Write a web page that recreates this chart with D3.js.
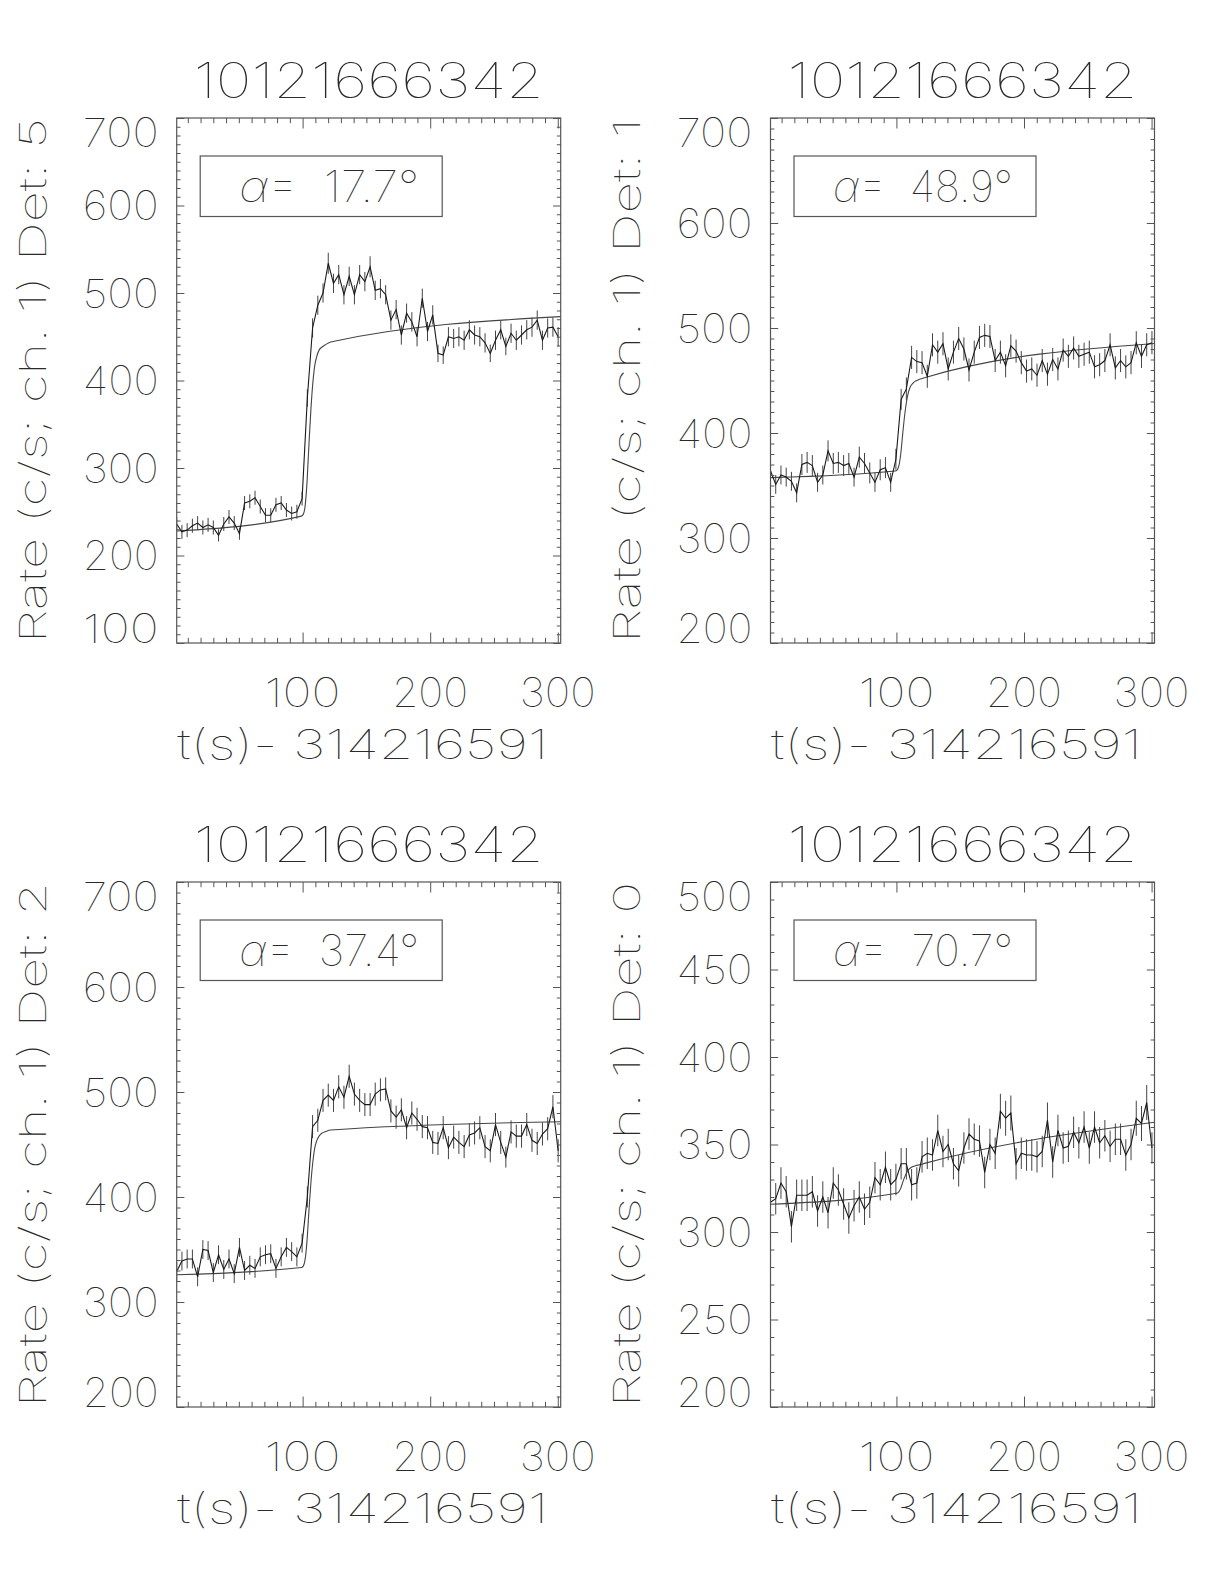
<!DOCTYPE html>
<html><head><meta charset="utf-8">
<script src="https://cdn.jsdelivr.net/npm/d3@7"></script>
<style>
html,body{margin:0;padding:0;background:#fff;}
svg text{font-family:"Inter","Noto Sans",sans-serif;font-weight:100;fill:#2a2a2a;white-space:pre;}
</style></head><body>
<svg id="c" width="1224" height="1584" xmlns="http://www.w3.org/2000/svg"></svg>
<script>
// ---------------- data ----------------
const obsId = "10121666342";
const xTitle = "t(s)- 314216591";
const detectors = [5, 1, 2, 0];
const alphas = ["17.7", "48.9", "37.4", "70.7"];
const yRanges = [[100, 700], [200, 700], [200, 700], [200, 500]];
const yMajorSteps = [100, 100, 100, 50];
const xDomain = [1.3, 302.3];
const xTickLabels = [100, 200, 300];

// bin centres (s since 314216591), 4.096 s bins
const times = [1.3,5.4,9.5,13.6,17.7,21.8,25.9,30.0,34.1,38.2,42.3,46.4,50.5,54.5,58.6,62.7,66.8,70.9,75.0,79.1,
  83.2,87.3,91.4,95.5,99.6,103.7,107.8,111.9,116.0,120.1,124.2,128.3,132.4,136.5,140.6,144.7,148.8,152.9,156.9,161.0,
  165.1,169.2,173.3,177.4,181.5,185.6,189.7,193.8,197.9,202.0,206.1,210.2,214.3,218.4,222.5,226.6,230.7,234.8,238.9,243.0,
  247.1,251.2,255.3,259.3,263.4,267.5,271.6,275.7,279.8,283.9,288.0,292.1,296.2,300.3];

const rateDet5 = [236,227,229,234,237,232,235,232,223,236,244,237,225,260,262,266,256,246,246,258,
  260,252,248,250,265,380,460,486,500,534,511,521,498,519,498,521,513,530,503,505,
  498,469,481,452,477,467,450,494,456,475,431,429,450,448,450,446,458,452,450,443,
  431,446,458,439,454,446,452,458,461,469,446,460,461,450];
const errDet5 = [8,8,8,8,8,8,8,8,7,8,8,8,7,8,8,8,8,8,8,8,8,8,8,8,8,10,11,11,11,12,11,11,11,11,11,11,11,12,11,11,
  11,11,11,11,11,11,11,11,11,11,10,10,11,11,11,11,11,11,11,11,10,11,11,10,11,11,11,11,11,11,11,11,11,11];

const rateDet1 = [364,351,360,358,354,343,370,372,369,353,360,383,371,372,369,371,358,377,371,362,
  353,365,367,353,375,432,442,472,468,467,454,484,477,485,461,477,490,480,460,477,
  491,493,492,469,477,464,483,478,467,459,461,455,469,456,470,461,479,473,481,473,
  475,477,463,465,469,484,462,469,463,467,486,473,484,486];
const errDet1 = [10,9,9,9,9,9,10,10,10,9,9,10,10,10,10,10,9,10,10,10,9,10,10,9,10,10,11,11,11,11,11,11,11,11,11,11,11,11,11,11,
  11,11,11,11,11,11,11,11,11,11,11,11,11,11,11,11,11,11,11,11,11,11,11,11,11,11,11,11,11,11,11,11,11,11];

const rateDet2 = [329,339,341,341,324,350,349,328,345,331,341,327,352,330,335,332,343,345,346,332,
  343,352,348,343,356,400,467,473,492,497,492,505,495,515,498,492,488,488,498,502,
  503,482,476,483,466,480,474,467,466,452,451,466,447,457,452,448,459,461,466,448,
  444,469,452,438,462,458,458,469,454,451,460,465,486,444];
const errDet2 = [9,9,9,9,9,9,9,9,9,9,9,9,9,9,9,9,9,9,9,9,9,9,9,9,9,10,11,11,11,11,11,11,11,11,11,11,11,11,11,11,
  11,11,11,11,11,11,11,11,11,11,11,11,11,11,11,11,11,11,11,11,11,11,11,10,11,11,11,11,11,11,11,11,11,11];

const rateDet0 = [317,319,328,323,303,321,321,321,323,312,320,311,328,324,316,308,315,320,313,317,
  331,327,337,327,330,339,339,327,328,343,345,344,358,346,350,339,335,348,356,353,
  352,334,350,345,369,365,368,339,345,344,344,343,346,364,340,358,348,349,357,351,
  360,348,360,351,355,349,353,353,344,350,365,362,374,348];
const errDet0 = [9,9,9,9,9,9,9,9,9,9,9,9,9,9,9,9,9,9,9,9,9,9,9,9,9,9,9,9,9,9,9,9,9,9,9,9,9,9,9,9,
  9,9,9,9,10,10,10,9,9,9,9,9,9,10,9,9,9,9,9,9,9,9,9,9,9,9,9,9,9,9,10,10,10,9];

// fitted model, sampled densely around the occultation step
const modelTimes = [1.3, 99, 100.5, 102, 103.5, 105, 106.5, 108, 109.5, 111, 113, 115, 118, 122, 302.3];
const modelDet5 = [228, 245, 247, 257, 285, 328, 367, 397, 417, 427, 435, 438, 441, 444, 473];
const modelDet1 = [357.5, 363.8, 364.7, 369.1, 381.2, 400.1, 417.4, 430.5, 439.2, 444.2, 447.6, 449.5, 451.1, 452.7, 485.3];
const modelDet2 = [325.9, 332.8, 334.2, 340.8, 359.2, 387.7, 413.8, 433.3, 446.5, 453.4, 458.2, 460.7, 462.3, 463.8, 471.7];
const modelDet0 = [315.9, 322.0, 322.2, 323.1, 325.2, 328.5, 331.5, 333.9, 335.6, 336.6, 337.4, 337.9, 338.4, 339.2, 362.7];

const rates = [rateDet5, rateDet1, rateDet2, rateDet0];
const errs = [errDet5, errDet1, errDet2, errDet0];
const models = [modelDet5, modelDet1, modelDet2, modelDet0];

// ---------------- layout ----------------
const W = 384, H = 525;
const origins = [[176.7, 118], [770.5, 118], [176.7, 882], [770.5, 882]];
const svg = d3.select("#c");
svg.append("rect").attr("width", 1224).attr("height", 1584).attr("fill", "#fff");

const AX = "#555";
const LABEL_CAP = 29;

origins.forEach(([ox, oy], k) => {
  const g = svg.append("g").attr("transform", `translate(${ox},${oy})`);
  const x = d3.scaleLinear().domain(xDomain).range([0, W]);
  const y = d3.scaleLinear().domain(yRanges[k]).range([H, 0]);
  const [y0, y1] = yRanges[k];
  const yMajor = d3.range(y0, y1 + 0.001, yMajorSteps[k]);
  const yMinor = d3.range(y0, y1 + 0.001, 10).filter(v => yMajor.indexOf(v) < 0);
  const xMinor = d3.range(10, 301, 10).filter(v => xTickLabels.indexOf(v) < 0);

  const cid = "clip" + k;
  g.append("clipPath").attr("id", cid).append("rect").attr("width", W).attr("height", H);

  const plot = g.append("g").attr("clip-path", `url(#${cid})`);
  const rate = rates[k], err = errs[k];

  // error bars
  plot.append("g").selectAll("line").data(times).join("line")
    .attr("x1", t => x(t)).attr("x2", t => x(t))
    .attr("y1", (t, i) => y(rate[i] - err[i]))
    .attr("y2", (t, i) => y(rate[i] + err[i]))
    .attr("stroke", "#444").attr("stroke-width", 1);

  // model
  const mdl = models[k];
  plot.append("path")
    .attr("d", d3.line().x((t) => x(t)).y((t, i) => y(mdl[i])).curve(d3.curveMonotoneX)(modelTimes))
    .attr("fill", "none").attr("stroke", "#444").attr("stroke-width", 1.1);

  // data
  plot.append("path")
    .attr("d", d3.line().x(t => x(t)).y((t, i) => y(rate[i]))(times))
    .attr("fill", "none").attr("stroke", "#1a1a1a").attr("stroke-width", 1.1);

  // axes: inward ticks on all four sides
  const styleAxis = sel => {
    sel.select(".domain").remove();
    sel.selectAll(".tick line").attr("stroke", AX).attr("stroke-width", 1);
    sel.selectAll(".tick text").remove();
  };
  g.append("g").attr("transform", `translate(0,${H})`)
    .call(d3.axisBottom(x).tickValues(xTickLabels).tickSize(-10.5)).call(styleAxis);
  g.append("g").attr("transform", `translate(0,${H})`)
    .call(d3.axisBottom(x).tickValues(xMinor).tickSize(-5.2)).call(styleAxis);
  g.append("g").call(d3.axisTop(x).tickValues(xTickLabels).tickSize(-10.5)).call(styleAxis);
  g.append("g").call(d3.axisTop(x).tickValues(xMinor).tickSize(-5.2)).call(styleAxis);
  g.append("g").call(d3.axisLeft(y).tickValues(yMajor).tickSize(-7.7)).call(styleAxis);
  g.append("g").call(d3.axisLeft(y).tickValues(yMinor).tickSize(-3.9)).call(styleAxis);
  g.append("g").attr("transform", `translate(${W},0)`)
    .call(d3.axisRight(y).tickValues(yMajor).tickSize(-7.7)).call(styleAxis);
  g.append("g").attr("transform", `translate(${W},0)`)
    .call(d3.axisRight(y).tickValues(yMinor).tickSize(-3.9)).call(styleAxis);

  // frame
  g.append("rect").attr("width", W).attr("height", H)
    .attr("fill", "none").attr("stroke", AX).attr("stroke-width", 1.2);

  // y tick labels (kept within the axis extent)
  g.append("g").selectAll("text").data(yMajor).join("text")
    .attr("x", -18)
    .attr("y", v => Math.min(Math.max(y(v), LABEL_CAP / 2), H - LABEL_CAP / 2) + LABEL_CAP / 2)
    .attr("text-anchor", "end").attr("font-size", 40)
    .attr("textLength", 76).attr("lengthAdjust", "spacingAndGlyphs")
    .text(v => v);

  // x tick labels
  g.append("g").selectAll("text").data(xTickLabels).join("text")
    .attr("x", v => x(v)).attr("y", H + 64)
    .attr("text-anchor", "middle").attr("font-size", 40)
    .attr("textLength", 76).attr("lengthAdjust", "spacingAndGlyphs")
    .text(v => v);

  // x title
  g.append("text").attr("x", W / 2 - 6).attr("y", H + 116)
    .attr("text-anchor", "middle").attr("font-size", 41)
    .attr("textLength", 371).attr("lengthAdjust", "spacingAndGlyphs")
    .text(xTitle);

  // y title
  g.append("text").attr("transform", `translate(-131,${H / 2}) rotate(-90)`)
    .attr("text-anchor", "middle").attr("font-size", 37)
    .attr("textLength", 525).attr("lengthAdjust", "spacingAndGlyphs")
    .text(`Rate (c/s; ch. 1) Det: ${detectors[k]}`);

  // panel title
  g.append("text").attr("x", W / 2).attr("y", -20)
    .attr("text-anchor", "middle").attr("font-size", 49)
    .attr("textLength", 350).attr("lengthAdjust", "spacingAndGlyphs")
    .text(obsId);

  // alpha annotation box
  g.append("rect").attr("x", 23.5).attr("y", 38).attr("width", 242).attr("height", 60.5)
    .attr("fill", "none").attr("stroke", AX).attr("stroke-width", 1.2);
  const at = g.append("text").attr("x", 62.5).attr("y", 84).attr("font-size", 44)
    .attr("textLength", 180).attr("lengthAdjust", "spacingAndGlyphs");
  at.append("tspan").attr("font-style", "italic").text("α");
  at.append("tspan").text(`=  ${alphas[k]}°`);
});
</script>
</body></html>
